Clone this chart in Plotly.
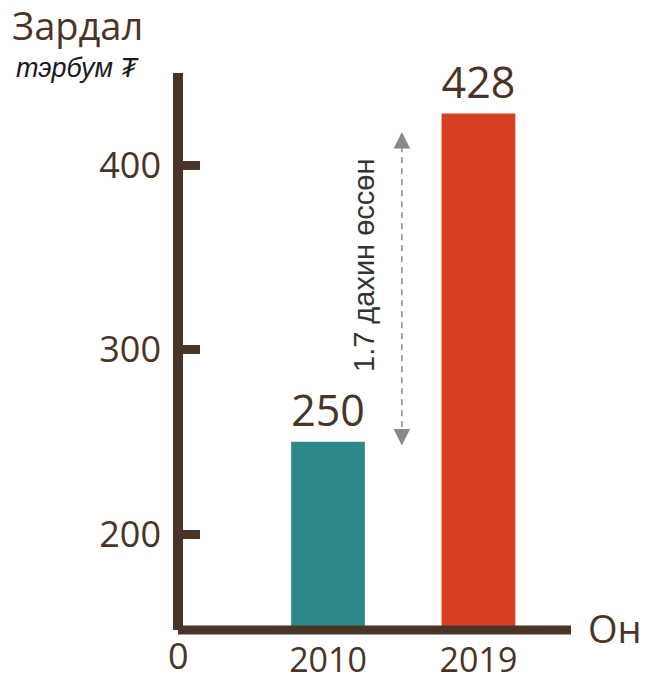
import plotly.graph_objects as go

years = ["2010", "2019"]
values = [250, 428]
bar_colors = ["#2E8887", "#D63F21"]
tick_vals = [200, 300, 400]

BROWN = "#4A3428"
FONT = "Open Sans"

L, R, T, B = 178, 75, 73, 53
W, H = 646, 683
PW, PH = W - L - R, H - T - B

def px(x):
    return (x - L) / PW

def py(y):
    return (H - B - y) / PH

fig = go.Figure()
fig.add_trace(go.Bar(
    x=years, y=values, marker=dict(color=bar_colors, line=dict(width=0)),
    width=0.49, text=[str(v) for v in values], textposition="outside",
    textfont=dict(family=FONT, size=44, color=BROWN), cliponaxis=False,
))

fig.update_layout(
    width=W, height=H, margin=dict(l=L, r=R, t=T, b=B, autoexpand=False),
    plot_bgcolor="white", paper_bgcolor="white", showlegend=False,
    xaxis=dict(range=[-0.997, 1.615], showgrid=False, zeroline=False, showline=False,
               tickfont=dict(family=FONT, size=34, color=BROWN), ticks="",
               ticklabelstandoff=7, automargin=False),
    yaxis=dict(range=[148, 450], tickvals=tick_vals, showgrid=False, zeroline=False,
               showline=False, ticks="inside", ticklen=22, tickwidth=9, tickcolor=BROWN,
               tickfont=dict(family=FONT, size=36, color=BROWN), ticklabelstandoff=16,
               automargin=False),
    shapes=[
        dict(type="line", xref="paper", yref="paper", x0=0, x1=0, y0=0, y1=1,
             line=dict(color=BROWN, width=10), layer="above"),
        dict(type="line", xref="paper", yref="paper", x0=0, x1=1, y0=0, y1=0,
             line=dict(color=BROWN, width=9), layer="above"),
        dict(type="line", xref="x", yref="y", x0=0.491, x1=0.491, y0=252, y1=414,
             line=dict(color="#888888", width=1.5, dash="6px,5px")),
    ],
)

annos = [
    dict(text="Зардал", x=px(10), y=py(25), xanchor="left", yanchor="middle",
         font=dict(family=FONT, size=38, color=BROWN)),
    dict(text="<i>тэрбум ₮</i>", x=px(14), y=py(68), xanchor="left", yanchor="middle",
         font=dict(family="Liberation Sans, DejaVu Sans", size=27, color="#1a1a1a")),
    dict(text="Он", x=px(586), y=py(628), xanchor="left", yanchor="middle",
         font=dict(family=FONT, size=38, color=BROWN)),
    dict(text="0", x=px(178), y=py(655), xanchor="center", yanchor="middle",
         font=dict(family=FONT, size=36, color=BROWN)),
    dict(text="1.7 дахин өссөн", x=px(364), y=py(266), xanchor="center", yanchor="middle",
         textangle=-90, font=dict(family="Liberation Sans", size=29, color="#333333")),
]
for a in annos:
    a.update(xref="paper", yref="paper", showarrow=False)
    fig.add_annotation(**a)

for tip, off in [(418, 16), (248, -16)]:
    fig.add_annotation(x=0.491, y=tip, xref="x", yref="y", text="", showarrow=True,
                       ax=0, ay=off, arrowhead=2, arrowsize=2.2, arrowwidth=1.5,
                       arrowcolor="#888888")

fig.write_html("out.html")
